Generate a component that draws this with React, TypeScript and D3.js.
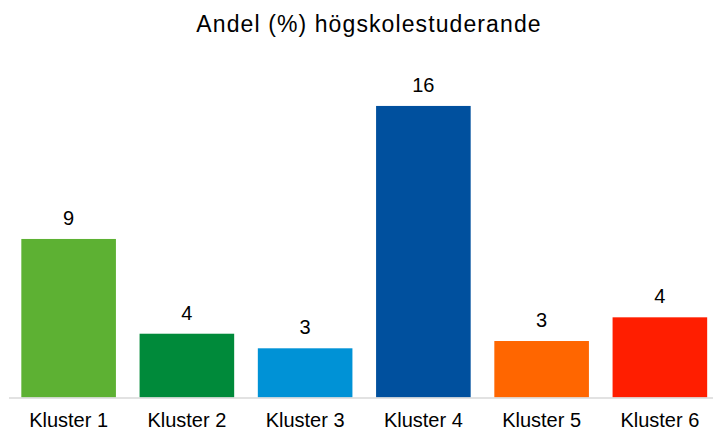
import React, { useEffect, useRef } from "react";
import * as d3 from "d3";

// Data
const clusters = ["Kluster 1", "Kluster 2", "Kluster 3", "Kluster 4", "Kluster 5", "Kluster 6"];
const shares = [8.7, 3.5, 2.7, 16, 3.1, 4.4];
const colors = ["#5db133", "#008a3a", "#0092d6", "#00509e", "#ff6600", "#ff1e00"];
const title = "Andel (%) högskolestuderande";

export default function App() {
  const svgRef = useRef<SVGSVGElement | null>(null);

  useEffect(() => {
    const width = 713;
    const height = 432;
    const baseline = 397.5;

    const svg = d3.select(svgRef.current)
      .attr("width", width)
      .attr("height", height)
      .attr("style", "position: absolute; left: 0; top: 0; background: #fff; font-family: 'Liberation Sans', Arial, sans-serif;");

    svg.selectAll("*").remove();

    const x = d3.scaleBand<string>()
      .domain(clusters)
      .range([9.5, 719])
      .paddingInner(0.2)
      .paddingOuter(0.1);

    const y = d3.scaleLinear()
      .domain([0, 18])
      .range([baseline, 69.5]);

    const data = clusters.map((c, i) => ({ name: c, value: shares[i], color: colors[i] }));

    // Title
    svg.append("text")
      .attr("x", 369)
      .attr("y", 31.5)
      .attr("text-anchor", "middle")
      .attr("font-size", 23)
      .attr("letter-spacing", 1.1)
      .attr("fill", "#000")
      .text(title);

    // Bars
    svg.append("g")
      .selectAll("rect")
      .data(data)
      .join("rect")
      .attr("x", d => x(d.name)!)
      .attr("y", d => y(d.value))
      .attr("width", x.bandwidth())
      .attr("height", d => y(0) - y(d.value))
      .attr("fill", d => d.color);

    // Baseline
    svg.append("line")
      .attr("x1", 9)
      .attr("x2", width)
      .attr("y1", baseline + 0.5)
      .attr("y2", baseline + 0.5)
      .attr("stroke", "#d9d9d9")
      .attr("stroke-width", 1.5);

    // Value labels
    const fmt = d3.format(".0f");
    svg.append("g")
      .selectAll("text")
      .data(data)
      .join("text")
      .attr("x", d => x(d.name)! + x.bandwidth() / 2)
      .attr("y", d => y(d.value) - 14)
      .attr("text-anchor", "middle")
      .attr("font-size", 20)
      .attr("fill", "#000")
      .text(d => fmt(d.value));

    // Category labels
    svg.append("g")
      .selectAll("text")
      .data(data)
      .join("text")
      .attr("x", d => x(d.name)! + x.bandwidth() / 2)
      .attr("y", 427)
      .attr("text-anchor", "middle")
      .attr("font-size", 20)
      .attr("fill", "#000")
      .text(d => d.name);

    return () => {
      d3.select(svgRef.current).selectAll("*").remove();
    };
  }, []);

  return <svg ref={svgRef} />;
}
